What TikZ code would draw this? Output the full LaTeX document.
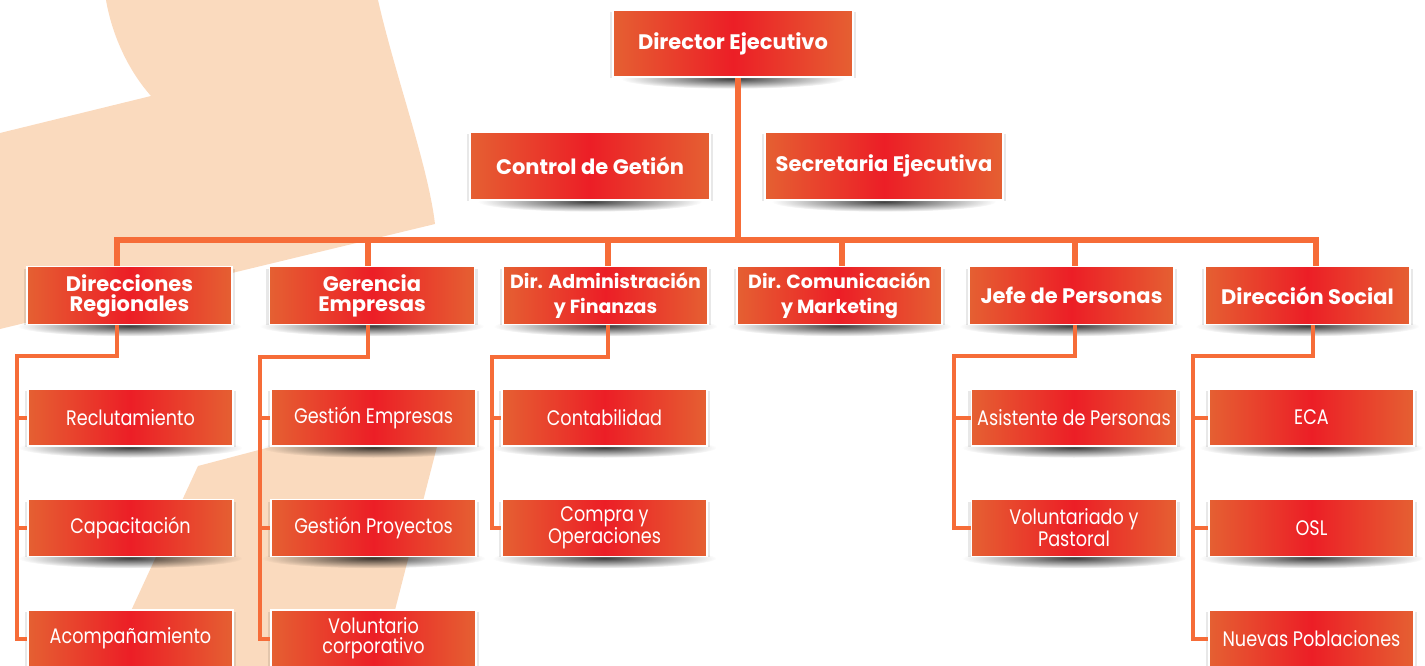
\documentclass[tikz,border=0pt]{standalone}
\usepackage{fontspec}
\setmainfont{Poppins}
\newfontfamily\boxfont{Poppins}[FakeStretch=0.84]
\usetikzlibrary{fadings}
\definecolor{peach}{RGB}{250,218,190}
\definecolor{lineor}{RGB}{246,108,56}
\definecolor{boxedge}{RGB}{229,96,50}
\definecolor{boxmid}{RGB}{236,30,38}
\tikzfading[name=shfade, inner color=transparent!0, outer color=transparent!100]
\pgfdeclarelayer{bg}\pgfdeclarelayer{shd}\pgfdeclarelayer{ln}
\pgfsetlayers{bg,shd,ln,main}
\begin{document}
\begin{tikzpicture}[x=1pt,y=-1pt,
  box/.style={rectangle, draw=white, line width=1.5pt, left color=boxedge, right color=boxedge, middle color=boxmid, text=white, align=center, inner sep=0pt, minimum width=205, minimum height=58},
  hbox/.style={box, font=\fontsize{21}{20}\selectfont\bfseries},
  hboxw/.style={box, font=\fontsize{19}{25}\selectfont\bfseries},
  lbox/.style={box, minimum height=57, font=\boxfont\fontsize{21}{20}\selectfont},
  mainln/.style={draw=lineor, line width=6.5pt},
  subln/.style={draw=lineor, line width=4pt},
  shadowfx/.style={fill=black, fill opacity=0.75, path fading=shfade},
  sideshd/.style={fill=black, fill opacity=0.09}
]
\useasboundingbox (0,0) rectangle (1425,666);
% background shapes
\begin{pgfonlayer}{bg}
\fill[peach] (106,0) .. controls (112,35) and (128,70) .. (151,96) -- (0,133) -- (0,329) -- (435,224) .. controls (428,165) and (395,75) .. (378,0) -- cycle;
\fill[peach] (198,466) -- (449,400) -- (377,680) -- (99,680) -- cycle;
\end{pgfonlayer}
% level 1
\node[hbox, minimum width=240, minimum height=67] (dir) at (733,43.5) {Director Ejecutivo};
\node[hbox, minimum width=240, minimum height=68] (cg) at (590,166) {Control de Getión};
\node[hbox, minimum width=238, minimum height=68] (se) at (884,166) {Secretaria Ejecutiva};
% level 2
\node[hbox] (DR) at (129.5,295.5) {Direcciones\\Regionales};
\node[hbox] (GE) at (372,295.5) {Gerencia\\Empresas};
\node[hboxw] (AF) at (605.5,295.5) {Dir. Administración\\y Finanzas};
\node[hboxw] (CM) at (839.5,295.5) {Dir. Comunicación\\y Marketing};
\node[hbox] (JP) at (1071.5,295.5) {Jefe de Personas};
\node[hbox] (DS) at (1307.5,295.5) {Dirección Social};
% level 3
\node[lbox] (r1) at (130.5,417.5) {Reclutamiento};
\node[lbox] (r2) at (130.5,528) {Capacitación};
\node[lbox] (r3) at (130.5,638.5) {Acompañamiento};
\node[lbox] (g1) at (373.5,417.5) {Gestión Empresas};
\node[lbox] (g2) at (373.5,528) {Gestión Proyectos};
\node[lbox] (g3) at (373.5,638.5) {Voluntario\\corporativo};
\node[lbox] (a1) at (604.5,417.5) {Contabilidad};
\node[lbox] (a2) at (604.5,528) {Compra y\\Operaciones};
\node[lbox] (j1) at (1074,417.5) {Asistente de Personas};
\node[lbox] (j2) at (1074,528) {Voluntariado y\\Pastoral};
\node[lbox] (s1) at (1311.5,417.5) {ECA};
\node[lbox] (s2) at (1311.5,528) {OSL};
\node[lbox] (s3) at (1311.5,638.5) {Nuevas Poblaciones};
% shadows
\begin{pgfonlayer}{shd}
\foreach \n in {dir,cg,se,DR,GE,AF,CM,JP,DS,r1,r2,g1,g2,a1,a2,j1,j2,s1,s2}
  \fill[shadowfx] ([yshift=-1pt]\n.south) ellipse [x radius=112pt, y radius=10pt];
\foreach \n in {dir,cg,se,DR,GE,AF,CM,JP,DS,r1,r2,r3,g1,g2,g3,a1,a2,j1,j2,s1,s2,s3}
  \fill[sideshd] ([xshift=-2.5pt,yshift=-3pt]\n.north west) rectangle ([xshift=2.5pt]\n.south east);
\end{pgfonlayer}
% connectors
\coordinate (trunk) at (738,240);
\coordinate (bl) at (117,240);
\coordinate (br) at (1316,240);
\coordinate (xGE) at (368,240);
\coordinate (xAF) at (608,240);
\coordinate (xCM) at (842,240);
\coordinate (xJP) at (1075,240);
\coordinate (jDR) at (117,356);
\coordinate (rDR) at (17,356);
\coordinate (jGE) at (368,357);
\coordinate (rGE) at (260,357);
\coordinate (jAF) at (608,357);
\coordinate (rAF) at (492,357);
\coordinate (jJP) at (1075,356);
\coordinate (rJP) at (954,356);
\coordinate (jDS) at (1313,356);
\coordinate (rDS) at (1193,356);
\begin{pgfonlayer}{ln}
\draw[mainln] (dir.south -| trunk) -- (trunk);
\draw[mainln] (DR.north -| bl) -- (bl) -- (br) -- (DS.north -| br);
\draw[mainln] (xGE) -- (GE.north -| xGE);
\draw[mainln] (xAF) -- (AF.north -| xAF);
\draw[mainln] (xCM) -- (CM.north -| xCM);
\draw[mainln] (xJP) -- (JP.north -| xJP);
\draw[subln] (DR.south -| jDR) -- (jDR) -- (rDR) |- (r3.west);
\draw[subln] (rDR) |- (r1.west);
\draw[subln] (rDR) |- (r2.west);
\draw[subln] (GE.south -| jGE) -- (jGE) -- (rGE) |- (g3.west);
\draw[subln] (rGE) |- (g1.west);
\draw[subln] (rGE) |- (g2.west);
\draw[subln] (AF.south -| jAF) -- (jAF) -- (rAF) |- (a2.west);
\draw[subln] (rAF) |- (a1.west);
\draw[subln] (JP.south -| jJP) -- (jJP) -- (rJP) |- (j2.west);
\draw[subln] (rJP) |- (j1.west);
\draw[subln] (DS.south -| jDS) -- (jDS) -- (rDS) |- (s3.west);
\draw[subln] (rDS) |- (s1.west);
\draw[subln] (rDS) |- (s2.west);
\end{pgfonlayer}
\end{tikzpicture}
\end{document}
